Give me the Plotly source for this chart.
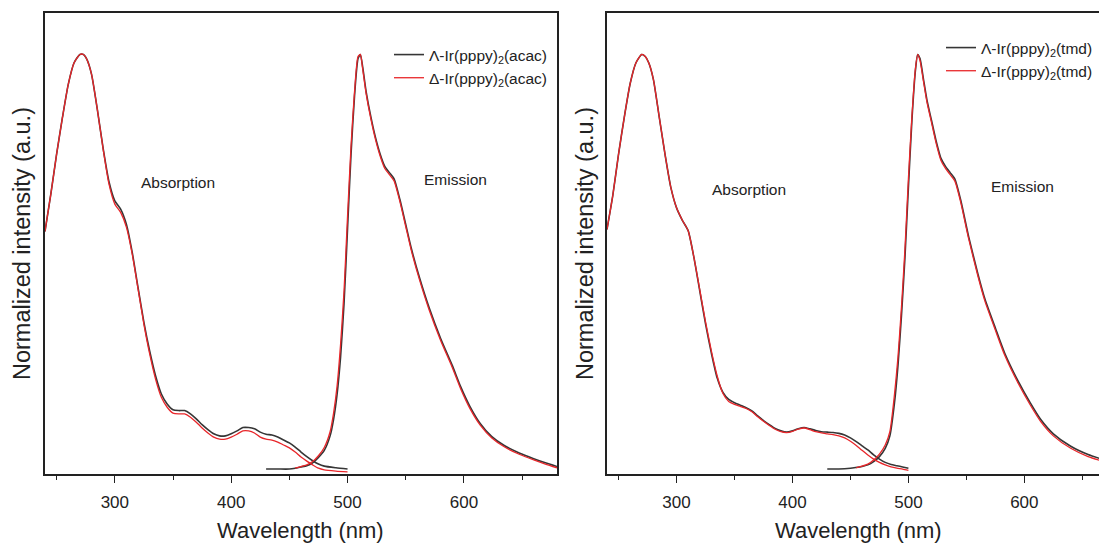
import plotly.graph_objects as go

# ---------------- data ----------------
# Left panel: Ir(pppy)2(acac)
abs_wl_acac = [240, 245, 250, 255, 260, 265, 270, 273, 276, 280, 285, 290, 295, 300, 305, 310,
               315, 320, 325, 330, 335, 340, 345, 350, 355, 360, 365, 370, 375, 380, 385, 390,
               395, 400, 405, 410, 415, 420, 425, 430, 435, 440, 445, 450, 455, 460, 465, 470,
               475, 480, 490, 500]
abs_delta_acac = [0.573, 0.663, 0.76, 0.848, 0.928, 0.98, 1.0, 1.0, 0.988, 0.952, 0.867, 0.771,
                  0.687, 0.639, 0.619, 0.583, 0.518, 0.434, 0.349, 0.277, 0.217, 0.173, 0.149,
                  0.135, 0.133, 0.133, 0.125, 0.113, 0.099, 0.087, 0.077, 0.072, 0.072, 0.077,
                  0.084, 0.092, 0.092, 0.087, 0.077, 0.072, 0.070, 0.065, 0.058, 0.051, 0.041,
                  0.029, 0.019, 0.010, 0.002, -0.002, -0.005, -0.007]
abs_lambda_acac = [0.573, 0.663, 0.76, 0.848, 0.928, 0.98, 1.0, 1.0, 0.988, 0.952, 0.867, 0.773,
                   0.693, 0.647, 0.627, 0.59, 0.522, 0.437, 0.354, 0.284, 0.225, 0.181, 0.157,
                   0.143, 0.141, 0.141, 0.133, 0.121, 0.107, 0.095, 0.085, 0.080, 0.080, 0.085,
                   0.092, 0.100, 0.100, 0.097, 0.089, 0.084, 0.082, 0.077, 0.070, 0.063, 0.053,
                   0.041, 0.030, 0.020, 0.012, 0.007, 0.003, 0.000]

em_wl_lambda_acac = [430, 440, 450, 455, 460, 465, 470, 475, 480, 485, 488, 491, 494, 497, 500,
                     503, 506, 509, 511, 513, 516, 520, 524, 528, 532, 536, 540, 545, 550, 555,
                     562, 570, 580, 590, 597, 605, 614, 624, 635, 648, 660, 670, 680]
em_lambda_acac = [0.0, 0.0, 0.0, 0.002, 0.005, 0.008, 0.015, 0.028, 0.045, 0.08, 0.12, 0.18, 0.27,
                  0.40, 0.58, 0.76, 0.90, 0.99, 1.0, 0.97, 0.91, 0.85, 0.80, 0.76, 0.73, 0.715,
                  0.70, 0.65, 0.59, 0.53, 0.46, 0.39, 0.315, 0.25, 0.2, 0.152, 0.11, 0.078,
                  0.056, 0.038, 0.025, 0.015, 0.006]
em_wl_delta_acac = [455, 460, 465, 470, 475, 480, 485, 488, 491, 494, 497, 500, 503, 506, 509,
                    511, 513, 516, 520, 524, 528, 532, 536, 540, 545, 550, 555, 562, 570, 580,
                    590, 597, 605, 614, 624, 635, 648, 660, 670, 680]
em_delta_acac = [0.002, 0.006, 0.01, 0.018, 0.032, 0.052, 0.09, 0.135, 0.20, 0.30, 0.43, 0.61,
                 0.78, 0.91, 0.995, 1.0, 0.965, 0.905, 0.845, 0.795, 0.755, 0.725, 0.71, 0.695,
                 0.645, 0.585, 0.525, 0.455, 0.385, 0.31, 0.245, 0.195, 0.147, 0.106, 0.075,
                 0.053, 0.035, 0.022, 0.012, 0.003]

# Right panel: Ir(pppy)2(tmd)
abs_wl_tmd = [240, 245, 250, 255, 260, 265, 270, 273, 276, 280, 285, 290, 295, 300, 305, 310,
              315, 320, 325, 330, 335, 340, 345, 350, 355, 360, 365, 370, 375, 380, 385, 390,
              395, 400, 405, 410, 415, 420, 425, 430, 435, 440, 445, 450, 455, 460, 465, 470,
              475, 480, 485, 490, 495, 500]
abs_lambda_tmd = [0.578, 0.66, 0.76, 0.85, 0.93, 0.98, 1.0, 0.995, 0.98, 0.94, 0.85, 0.76, 0.68,
                  0.63, 0.60, 0.575, 0.51, 0.43, 0.35, 0.28, 0.22, 0.185, 0.168, 0.16, 0.154,
                  0.148, 0.14, 0.128, 0.117, 0.107, 0.098, 0.092, 0.089, 0.092, 0.097, 0.100,
                  0.097, 0.093, 0.090, 0.089, 0.088, 0.086, 0.082, 0.075, 0.066, 0.056, 0.046,
                  0.034, 0.024, 0.016, 0.011, 0.008, 0.005, 0.002]
abs_delta_tmd = [0.578, 0.66, 0.76, 0.85, 0.93, 0.98, 1.0, 0.995, 0.98, 0.94, 0.85, 0.76, 0.68,
                 0.63, 0.60, 0.575, 0.51, 0.433, 0.355, 0.285, 0.225, 0.182, 0.163, 0.156, 0.151,
                 0.146, 0.138, 0.126, 0.115, 0.105, 0.096, 0.090, 0.088, 0.091, 0.096, 0.099,
                 0.095, 0.090, 0.087, 0.085, 0.083, 0.080, 0.075, 0.067, 0.057, 0.045, 0.034,
                 0.024, 0.016, 0.01, 0.005, 0.002, 0.0, -0.003]

em_wl_lambda_tmd = [430, 440, 450, 460, 465, 470, 475, 480, 484, 488, 491, 494, 497, 500, 503,
                    506, 508, 510, 513, 516, 520, 524, 528, 532, 536, 540, 545, 552, 560, 566,
                    575, 583, 595, 605, 614, 625, 640, 655, 671]
em_lambda_tmd = [0.0, 0.0, 0.002, 0.006, 0.01, 0.018, 0.03, 0.05, 0.08, 0.16, 0.25, 0.37, 0.51,
                 0.68, 0.84, 0.96, 1.0, 0.99, 0.94, 0.89, 0.84, 0.79, 0.75, 0.73, 0.715, 0.70,
                 0.65, 0.56, 0.47, 0.41, 0.34, 0.28, 0.21, 0.16, 0.12, 0.085, 0.055, 0.035,
                 0.02]
em_wl_delta_tmd = [455, 460, 465, 470, 475, 480, 484, 488, 491, 494, 497, 500, 503, 506, 508,
                   510, 513, 516, 520, 524, 528, 532, 536, 540, 545, 552, 560, 566, 575, 583,
                   595, 605, 614, 625, 640, 655, 671]
em_delta_tmd = [0.003, 0.007, 0.012, 0.022, 0.036, 0.058, 0.09, 0.18, 0.27, 0.39, 0.53, 0.70,
                0.85, 0.965, 1.0, 0.985, 0.935, 0.885, 0.835, 0.785, 0.745, 0.725, 0.71, 0.695,
                0.645, 0.555, 0.465, 0.405, 0.335, 0.275, 0.205, 0.155, 0.115, 0.08, 0.05,
                0.03, 0.016]

name_lambda_acac = "Λ-Ir(pppy)<sub>2</sub>(acac)"
name_delta_acac = "Δ-Ir(pppy)<sub>2</sub>(acac)"
name_lambda_tmd = "Λ-Ir(pppy)<sub>2</sub>(tmd)"
name_delta_tmd = "Δ-Ir(pppy)<sub>2</sub>(tmd)"

# ---------------- styling ----------------
BLACK = "#363636"
RED = "#e8262a"
FONT = "Liberation Sans, Arial, sans-serif"
OFF = 8                      # page body margin
W, H = 1107 - OFF, 544 - OFF


def px(x):
    return (x - OFF) / W


def py(y):
    return 1 - (y - OFF) / H


fig = go.Figure()


def add(x, y, color, name, xa, ya, legend, show, width):
    fig.add_trace(go.Scatter(
        x=x, y=y, mode="lines", name=name, legendgroup=legend + name,
        showlegend=show, legend=legend, xaxis=xa, yaxis=ya,
        line=dict(color=color, width=width, shape="spline", smoothing=0.6)))


add(abs_wl_acac, abs_lambda_acac, BLACK, name_lambda_acac, "x", "y", "legend", True, 1.6)
add(em_wl_lambda_acac, em_lambda_acac, BLACK, name_lambda_acac, "x", "y", "legend", False, 1.6)
add(abs_wl_acac, abs_delta_acac, RED, name_delta_acac, "x", "y", "legend", True, 1.3)
add(em_wl_delta_acac, em_delta_acac, RED, name_delta_acac, "x", "y", "legend", False, 1.3)

add(abs_wl_tmd, abs_lambda_tmd, BLACK, name_lambda_tmd, "x2", "y2", "legend2", True, 1.6)
add(em_wl_lambda_tmd, em_lambda_tmd, BLACK, name_lambda_tmd, "x2", "y2", "legend2", False, 1.6)
add(abs_wl_tmd, abs_delta_tmd, RED, name_delta_tmd, "x2", "y2", "legend2", True, 1.3)
add(em_wl_delta_tmd, em_delta_tmd, RED, name_delta_tmd, "x2", "y2", "legend2", False, 1.3)

ydom = [py(474), py(13)]
xcommon = dict(
    showgrid=False, zeroline=False, showline=True, linecolor="#222", linewidth=1.5,
    ticks="outside", ticklen=7, tickwidth=1.3, tickcolor="#222", dtick=100, tick0=0,
    tickfont=dict(family=FONT, size=17, color="#222"), ticklabelstandoff=5,
    minor=dict(ticks="outside", ticklen=4, dtick=50, tickwidth=1.2, tickcolor="#222"),
    fixedrange=True,
)
ycommon = dict(
    showgrid=False, zeroline=False, showline=True, linecolor="#222", linewidth=1.5,
    showticklabels=False, ticks="", range=[-0.012, 1.1], fixedrange=True,
)

leg_font = dict(family=FONT, size=15.5, color="#222")
fig.update_layout(
    width=W, height=H, margin=dict(l=0, r=0, t=0, b=0),
    paper_bgcolor="white", plot_bgcolor="white",
    xaxis=dict(domain=[px(45), px(557)], range=[240, 680], mirror=True, anchor="y", **xcommon),
    yaxis=dict(domain=ydom, mirror=True, anchor="x", **ycommon),
    xaxis2=dict(domain=[px(607), 1.0], range=[240, 671.3], mirror=True, anchor="y2", **xcommon),
    yaxis2=dict(domain=ydom, mirror=False, anchor="x2", **ycommon),
    legend=dict(x=px(389), y=py(38), xanchor="left", yanchor="top", font=leg_font,
                itemwidth=30, bgcolor="rgba(0,0,0,0)", tracegroupgap=0),
    legend2=dict(x=px(941), y=py(31), xanchor="left", yanchor="top", font=leg_font,
                 itemwidth=30, bgcolor="rgba(0,0,0,0)", tracegroupgap=0),
    showlegend=True,
)

ann_font = dict(family=FONT, size=15.5, color="#222")
title_font = dict(family=FONT, size=22, color="#222")
ytitle_font = dict(family=FONT, size=23.5, color="#222")
annotations = [
    dict(text="Absorption", x=px(178), y=py(182), font=ann_font),
    dict(text="Emission", x=px(455), y=py(180), font=ann_font),
    dict(text="Absorption", x=px(749), y=py(189), font=ann_font),
    dict(text="Emission", x=px(1022), y=py(186), font=ann_font),
    dict(text="Wavelength (nm)", x=px(300), y=py(530), font=title_font),
    dict(text="Wavelength (nm)", x=px(858), y=py(530), font=title_font),
    dict(text="Normalized intensity (a.u.)", x=px(22), y=py(244), textangle=-90, font=ytitle_font),
    dict(text="Normalized intensity (a.u.)", x=px(585), y=py(244), textangle=-90, font=ytitle_font),
]
for a in annotations:
    a.update(xref="paper", yref="paper", showarrow=False, xanchor="center", yanchor="middle")
fig.update_layout(annotations=annotations)

fig.write_html("out.html")
